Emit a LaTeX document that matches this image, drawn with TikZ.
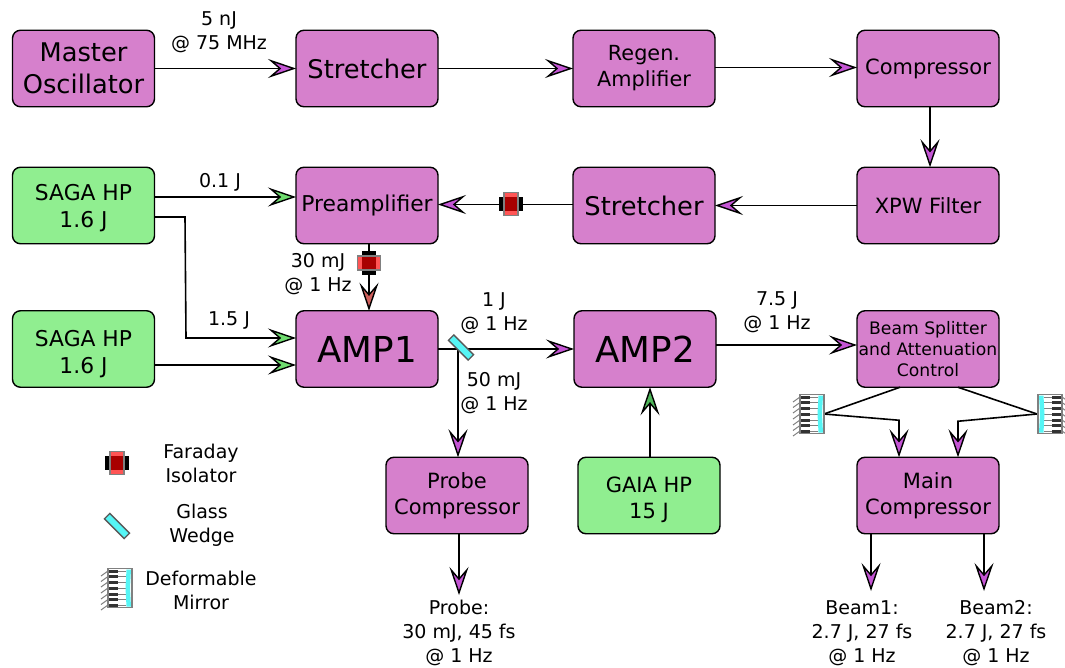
\documentclass[tikz,border=0pt]{standalone}
\usepackage{fontspec}
\setmainfont{DejaVu Sans}
\usetikzlibrary{arrows.meta,calc}
\definecolor{boxv}{HTML}{D680CC}
\definecolor{boxg}{HTML}{90EE90}
\definecolor{tipv}{HTML}{C455D4}
\definecolor{tipg}{HTML}{6FDC6F}
\definecolor{tipd}{HTML}{4FB65A}
\definecolor{tipr}{HTML}{D0605C}
\definecolor{glass}{HTML}{55F5F5}
\definecolor{frd}{HTML}{FF5555}
\definecolor{frdk}{HTML}{A80000}
\newcommand{\fs}[2]{\fontsize{#1}{#2}\selectfont}
\tikzset{
 x=1pt,y=-1pt,
 base/.style={draw=black,line width=1.4pt,rounded corners=8pt,minimum width=142pt,minimum height=76.5pt,inner sep=0pt,outer sep=0pt,align=center},
 vbox/.style={base,fill=boxv},
 gbox/.style={base,fill=boxg},
 lab/.style={font=\fs{19}{24},align=center,inner sep=0pt},
 arr/.style={line width=1.6pt,-{Stealth[length=28pt,width=19pt,inset=11pt,fill=#1,line width=1.4pt]}},
 arr/.default=tipv,
 plain/.style={line width=1.6pt},
 faraday/.pic={
  \fill[black] (-12,-7) rectangle (12,7);
  \draw[fill=frd,draw=gray,line width=1.2pt] (-7,-11.5) rectangle (7,11.5);
  \fill[frdk] (-6.4,-7) rectangle (6.4,7);
 },
 wedge/.pic={
  \draw[fill=glass,draw=gray!70!black,line width=1.3pt] (-14,-3.8) rectangle (14,3.8);
 },
 dmirror/.pic={
  \foreach \q in {-17,-11.5,-6,0,6,11.5,17}{
   \draw[gray,line width=1pt] (-24,\q+5) -- (-17,\q);
   \draw[gray!40!black,line width=3pt] (-17,\q) -- (-7,\q);
   \draw[gray,line width=.8pt] (-7,\q) -- (1,\q);
  }
  \draw[gray,line width=1.2pt] (-17,-19.5) rectangle (7,19.5);
  \fill[glass] (1.5,-18.5) -- (6,-18.5) -- (5,0) -- (6,18.5) -- (1.5,18.5) -- (.5,0) -- cycle;
 },
}
\begin{document}
\begin{tikzpicture}
\useasboundingbox (0,0) rectangle (1065,668);
\node[vbox,font=\fs{25.7}{32}] (mo) at (83.5,68.5) {Master\\Oscillator};
\node[vbox,font=\fs{25.7}{32}] (st1) at (367,68.5) {Stretcher};
\node[vbox,font=\fs{20.8}{26}] (rg) at (644,68.5) {Regen.\\Amplifier};
\node[vbox,font=\fs{21}{26}] (cp) at (928,68.5) {Compressor};
\node[gbox,font=\fs{21.8}{27}] (sg1) at (83.5,205.5) {\rule{0pt}{22pt}SAGA HP\\1.6 J};
\node[vbox,font=\fs{21.8}{27}] (pa) at (367,205.5) {Preamplifier};
\node[vbox,font=\fs{25.7}{32}] (st2) at (644,205.5) {Stretcher};
\node[vbox,font=\fs{21}{26}] (xp) at (928,205.5) {XPW Filter};
\node[gbox,font=\fs{21.8}{27}] (sg2) at (83.5,349) {\rule{0pt}{26pt}SAGA HP\\1.6 J};
\node[vbox,font=\fs{35.7}{40}] (a1) at (367,349) {AMP1};
\node[vbox,font=\fs{35.7}{40}] (a2) at (645,349) {AMP2};
\node[vbox,font=\fs{17.2}{21}] (bs) at (928,349) {Beam Splitter\\and Attenuation\\Control};
\node[vbox,font=\fs{21}{26.5}] (pc) at (457,495.5) {Probe\\Compressor};
\node[gbox,font=\fs{21}{26.5}] (ga) at (649,495.5) {\rule{0pt}{24pt}GAIA HP\\15 J};
\node[vbox,font=\fs{21}{26.5}] (mc) at (928,495.5) {Main\\Compressor};

\node[lab] (t1) at (219,32) {5 nJ\\@ 75 MHz};
\node[lab] (t2) at (220,182) {0.1 J};
\node[lab] (t3) at (229,320) {1.5 J};
\node[lab] (t4) at (318,274) {30 mJ\\@ 1 Hz};
\node[lab] (t5) at (494,313) {1 J\\@ 1 Hz};
\node[lab] (t6) at (494,393) {50 mJ\\@ 1 Hz};
\node[lab] (t7) at (777,312) {7.5 J\\@ 1 Hz};
\node[lab] (t8) at (459,633) {Probe:\\30 mJ, 45 fs\\@ 1 Hz};
\node[lab] (t9) at (862,633) {Beam1:\\2.7 J, 27 fs\\@ 1 Hz};
\node[lab] (t10) at (996,633) {Beam2:\\2.7 J, 27 fs\\@ 1 Hz};
\node[lab] (l1) at (201,463) {Faraday\\Isolator};
\node[lab] (l2) at (202,525) {Glass\\Wedge};
\node[lab] (l3) at (201,590) {Deformable\\Mirror};

% connectors
\coordinate (dmL) at (824,414);
\coordinate (dmR) at (1037,414);
\coordinate (k1) at (185,217);
\coordinate (k2) at (186,338);
\coordinate (bp) at (458,349);
\draw[arr] (mo.east) -- (st1.west);
\draw[arr] (st1.east) -- (rg.west);
\draw[arr] ([yshift=1pt]rg.east) -- ([yshift=1pt]cp.west);
\draw[arr] ([xshift=2pt]cp.south) -- ([xshift=2pt]xp.north);
\draw[arr] (xp.west) -- (st2.east);
\draw[arr] ([yshift=1pt]st2.west) -- ([yshift=1pt]pa.east);
\draw[arr=tipr] ([xshift=2pt]pa.south) -- ([xshift=2pt]a1.north);
\draw[arr=tipg] ([yshift=8.5pt]sg1.east) -- ([yshift=8.5pt]pa.west);
\draw[arr=tipg] ([yshift=-11.5pt]sg1.east) -- (k1) -- (k2) -- (a1.west |- k2);
\draw[arr=tipg] ([yshift=-16pt]sg2.east) -- ([yshift=-16pt]a1.west);
\draw[arr] (a1.east) -- (a2.west);
\draw[arr] (bp) -- (bp |- pc.north);
\draw[arr=tipd] ([xshift=1pt]ga.north) -- ([xshift=1pt]ga.north |- a2.south);
\draw[arr] ([yshift=4pt]a2.east) -- ([yshift=4pt]bs.west);
\draw[plain,-] ([xshift=-28pt]bs.south) -- (dmL);
\draw[arr] (dmL) -- ([xshift=-29pt,yshift=37pt]mc.north) -- ([xshift=-29pt]mc.north);
\draw[plain,-] ([xshift=30pt]bs.south) -- (dmR);
\draw[arr] (dmR) -- ([xshift=30pt,yshift=36pt]mc.north) -- ([xshift=30pt]mc.north);
\coordinate (p1) at (459,595);
\coordinate (b1) at (871,591);
\coordinate (b2) at (984,591);
\draw[arr] (pc.south -| p1) -- (p1);
\draw[arr] (mc.south -| b1) -- (b1);
\draw[arr] (mc.south -| b2) -- (b2);

% optics
\pic at (511,204) {faraday};
\pic[rotate=90] at (369,263) {faraday};
\pic at (117,463) {faraday};
\pic[rotate=-45] at (461,347.5) {wedge};
\pic[rotate=-45] at (117,526) {wedge};
\pic at (125,588) {dmirror};
\pic at (817,414) {dmirror};
\pic[xscale=-1] at (1045,414) {dmirror};
\end{tikzpicture}
\end{document}
